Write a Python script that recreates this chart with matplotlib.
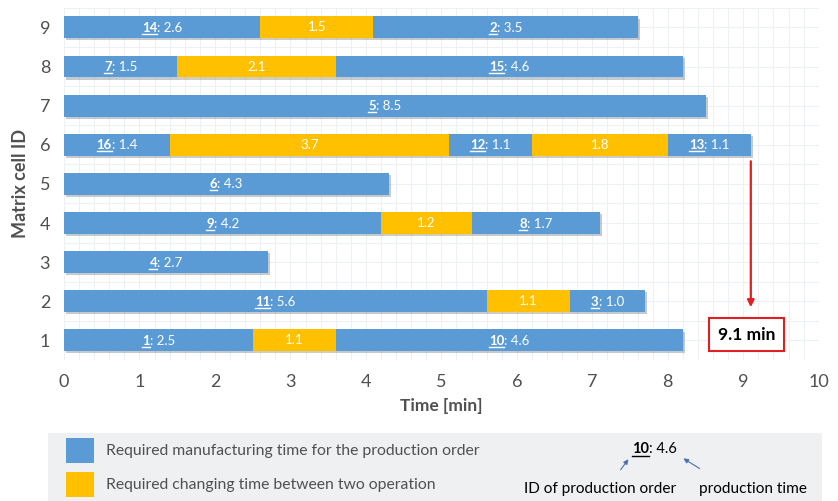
import numpy as np
import matplotlib
matplotlib.use('Agg')
import matplotlib.pyplot as plt
import matplotlib.patheffects as pe
from matplotlib.patches import Rectangle, FancyArrowPatch

plt.rcParams['font.family'] = ['Lato', 'DejaVu Sans']

# Each row: list of (kind, order id, duration). kind 'm' = manufacturing, 'c' = changing
cells = [1, 2, 3, 4, 5, 6, 7, 8, 9]
cell_1 = [('m', '1', 2.5), ('c', '', 1.1), ('m', '10', 4.6)]
cell_2 = [('m', '11', 5.6), ('c', '', 1.1), ('m', '3', 1.0)]
cell_3 = [('m', '4', 2.7)]
cell_4 = [('m', '9', 4.2), ('c', '', 1.2), ('m', '8', 1.7)]
cell_5 = [('m', '6', 4.3)]
cell_6 = [('m', '16', 1.4), ('c', '', 3.7), ('m', '12', 1.1), ('c', '', 1.8), ('m', '13', 1.1)]
cell_7 = [('m', '5', 8.5)]
cell_8 = [('m', '7', 1.5), ('c', '', 2.1), ('m', '15', 4.6)]
cell_9 = [('m', '14', 2.6), ('c', '', 1.5), ('m', '2', 3.5)]
schedule = [cell_1, cell_2, cell_3, cell_4, cell_5, cell_6, cell_7, cell_8, cell_9]
makespan = 9.1

blue = '#5b9bd5'
yellow = '#ffc000'
grey = '#505050'

fig = plt.figure(figsize=(8.38, 5.01), dpi=100)
ax = fig.add_axes([0.0764, 0.2814, 0.9006, 0.703])
ax.set_xlim(0, 10)
ax.set_ylim(0.5, 9.5)

# faint background grid
for gx in np.arange(0, 10.01, 0.2):
    ax.axvline(gx, color='#edf1f4', lw=0.8, zorder=0)
for gy in np.arange(0.5, 9.51, 0.5):
    ax.axhline(gy, color='#edf1f4', lw=0.8, zorder=0)

shadow = [pe.SimplePatchShadow(offset=(1.5, -1.5), alpha=0.25), pe.Normal()]

fig.canvas.draw()
renderer = fig.canvas.get_renderer()
px_per_unit = ax.get_window_extent().width / 10.0
px_per_row = ax.get_window_extent().height / 9.0

for cell, segs in zip(cells, schedule):
    start = 0.0
    for kind, oid, dur in segs:
        ax.barh(cell, dur, left=start, height=0.56,
                color=blue if kind == 'm' else yellow, zorder=2, path_effects=shadow)
        cx = start + dur / 2
        if kind == 'c':
            ax.text(cx, cell, f'{dur:.1f}', color='white', fontsize=9.5,
                    ha='center', va='center', zorder=3)
        else:
            t1 = ax.text(0, cell, oid, color='white', fontsize=9.5, fontweight='bold',
                         ha='left', va='baseline', zorder=3)
            t2 = ax.text(0, cell, f': {dur:.1f}', color='white', fontsize=9.5,
                         ha='left', va='baseline', zorder=3)
            w1 = t1.get_window_extent(renderer).width / px_per_unit
            w2 = t2.get_window_extent(renderer).width / px_per_unit
            x0 = cx - (w1 + w2) / 2
            yb = cell - 4.5 / px_per_row
            t1.set_position((x0, yb))
            t2.set_position((x0 + w1, yb))
            uy = yb - 2.0 / px_per_row
            ax.plot([x0, x0 + w1], [uy, uy], color='white', lw=1.0, zorder=3)
        start += dur

for s in ax.spines.values():
    s.set_visible(False)
ax.tick_params(length=0, labelsize=13, colors=grey, pad=10)
ax.set_xticks(range(0, 11))
ax.set_yticks(cells)
ax.set_xlabel('Time [min]', fontsize=12.5, fontweight='bold', color=grey, labelpad=6)
ax.set_ylabel('Matrix cell ID', fontsize=13, fontweight='bold', color=grey, labelpad=8)

# makespan arrow and box
ax.annotate('', xy=(makespan, 1.85), xytext=(makespan, 5.58),
            arrowprops=dict(arrowstyle='-|>', color='#e02020', lw=1.6,
                            mutation_scale=10, shrinkA=0, shrinkB=0), zorder=4)
ax.text(makespan - 0.06, 1.15, f'{makespan} min', fontsize=12.5, fontweight='bold',
        ha='center', va='center', zorder=4,
        bbox=dict(boxstyle='square,pad=0.5', fc='white', ec='#e02020', lw=1.5))

# legend panel
fig.patches.append(Rectangle((48 / 838, 0), 774 / 838, 68 / 501, transform=fig.transFigure,
                             fc='#eef0f2', ec='none', zorder=0))
fig.patches.append(Rectangle((66 / 838, 38 / 501), 28 / 838, 25 / 501, transform=fig.transFigure,
                             fc=blue, ec='none'))
fig.patches.append(Rectangle((66 / 838, 4 / 501), 28 / 838, 25 / 501, transform=fig.transFigure,
                             fc=yellow, ec='none'))
fig.text(106 / 838, 50 / 501, 'Required manufacturing time for the production order',
         fontsize=11.3, color=grey, va='center')
fig.text(106 / 838, 16 / 501, 'Required changing time between two operation',
         fontsize=11.3, color=grey, va='center')

l1 = fig.text(632 / 838, 48 / 501, '10', fontsize=10.5, fontweight='bold', va='baseline')
w1 = l1.get_window_extent(renderer).width
fig.text((632 + w1) / 838, 48 / 501, ': 4.6', fontsize=10.5, va='baseline')
fig.lines.append(plt.Line2D([632 / 838, (632 + w1) / 838], [45 / 501, 45 / 501],
                            transform=fig.transFigure, color='black', lw=1.0))
fig.text(600 / 838, 12 / 501, 'ID of production order', fontsize=11.1, ha='center', va='center')
fig.text(753 / 838, 12 / 501, 'production time', fontsize=11.1, ha='center', va='center')
fig.patches.append(FancyArrowPatch((619 / 838, 29 / 501), (630 / 838, 44 / 501),
                   transform=fig.transFigure, arrowstyle='-|>', mutation_scale=7,
                   color='#4a6fb5', lw=0.8))
fig.patches.append(FancyArrowPatch((702 / 838, 31 / 501), (681 / 838, 44 / 501),
                   transform=fig.transFigure, arrowstyle='-|>', mutation_scale=7,
                   color='#4a6fb5', lw=0.8))

fig.savefig('out.png', dpi=100)
